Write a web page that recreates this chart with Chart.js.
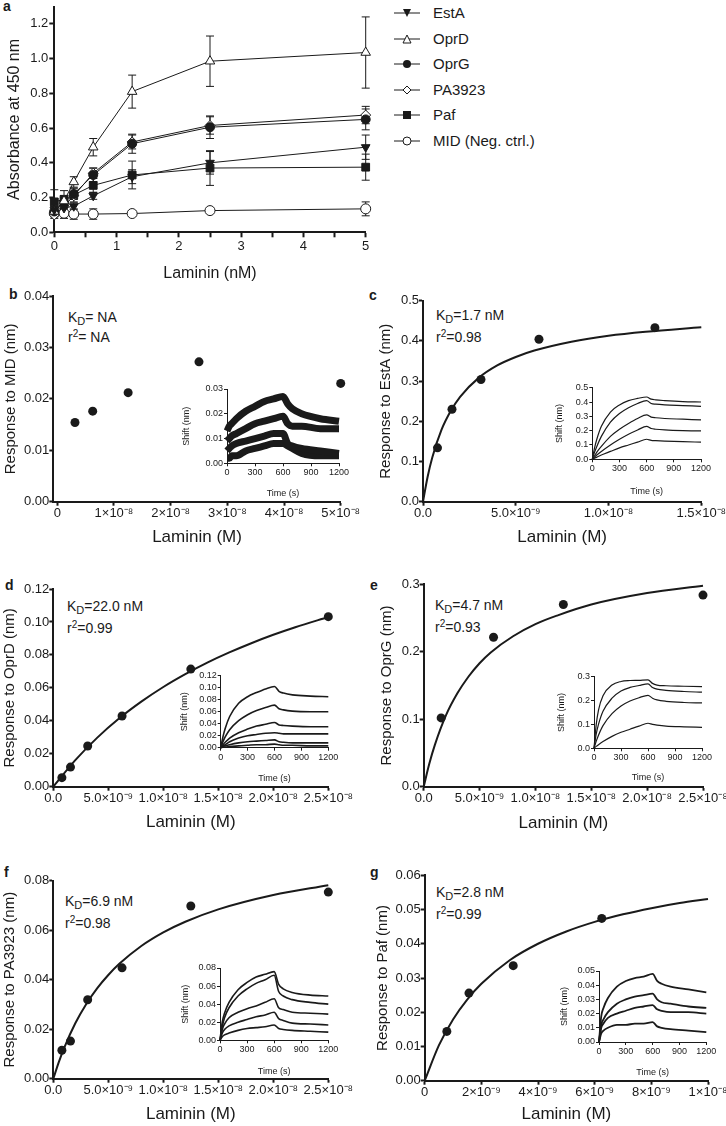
<!DOCTYPE html>
<html>
<head>
<meta charset="utf-8">
<script src="https://cdn.jsdelivr.net/npm/chart.js@4.4.1/dist/chart.umd.min.js"></script>
<style>
  html, body { margin: 0; padding: 0; background: #fff; }
  #fig { position: relative; width: 726px; height: 1126px; overflow: hidden;
         font-family: 'Liberation Sans', Arial, sans-serif; color: #1a1a1a; }
  #fig canvas { position: absolute; }
  .letter { position: absolute; font-weight: bold; font-size: 14px; line-height: 16px; }
  .note { position: absolute; font-size: 14px; line-height: 16px; white-space: nowrap; }
  .note sub { font-size: 11px; vertical-align: -3px; line-height: 0; }
  .note sup { font-size: 10px; vertical-align: 5px; line-height: 0; }
  .row { position: absolute; left: 394px; height: 20px; white-space: nowrap; font-size: 15px; }
  .row svg { position: absolute; left: 0; top: 3px; }
  .row span { position: absolute; left: 39px; top: 0; line-height: 20px; }
</style>
</head>
<body>
<div id="fig">
  <div class="letter" style="left:3px;top:-2px">a</div>
  <div class="letter" style="left:9px;top:286px">b</div>
  <div class="letter" style="left:369px;top:287px">c</div>
  <div class="letter" style="left:5px;top:577px">d</div>
  <div class="letter" style="left:370px;top:577px">e</div>
  <div class="letter" style="left:4px;top:864px">f</div>
  <div class="letter" style="left:370px;top:864px">g</div>

  <div class="note" style="left:68px;top:309px">K<sub>D</sub>= NA</div>
  <div class="note" style="left:68px;top:329px">r<sup>2</sup>= NA</div>
  <div class="note" style="left:436px;top:307px">K<sub>D</sub>=1.7 nM</div>
  <div class="note" style="left:436px;top:329px">r<sup>2</sup>=0.98</div>
  <div class="note" style="left:67px;top:598px">K<sub>D</sub>=22.0 nM</div>
  <div class="note" style="left:67px;top:620px">r<sup>2</sup>=0.99</div>
  <div class="note" style="left:435px;top:597px">K<sub>D</sub>=4.7 nM</div>
  <div class="note" style="left:435px;top:619px">r<sup>2</sup>=0.93</div>
  <div class="note" style="left:65px;top:893px">K<sub>D</sub>=6.9 nM</div>
  <div class="note" style="left:65px;top:915px">r<sup>2</sup>=0.98</div>
  <div class="note" style="left:436px;top:884px">K<sub>D</sub>=2.8 nM</div>
  <div class="note" style="left:436px;top:906px">r<sup>2</sup>=0.99</div>

  <div class="row" style="top:3px"><svg width="26" height="14"><line x1="0" y1="7" x2="26" y2="7" stroke="#1a1a1a"/><polygon points="9,3 17,3 13,11" fill="#1a1a1a"/></svg><span>EstA</span></div>
  <div class="row" style="top:29px"><svg width="26" height="14"><line x1="0" y1="7" x2="26" y2="7" stroke="#1a1a1a"/><polygon points="9,11 17,11 13,3" fill="#fff" stroke="#1a1a1a"/></svg><span>OprD</span></div>
  <div class="row" style="top:54px"><svg width="26" height="14"><line x1="0" y1="7" x2="26" y2="7" stroke="#1a1a1a"/><circle cx="13" cy="7" r="4" fill="#1a1a1a"/></svg><span>OprG</span></div>
  <div class="row" style="top:80px"><svg width="26" height="14"><line x1="0" y1="7" x2="26" y2="7" stroke="#1a1a1a"/><polygon points="13,3 17,7 13,11 9,7" fill="#fff" stroke="#1a1a1a"/></svg><span>PA3923</span></div>
  <div class="row" style="top:105px"><svg width="26" height="14"><line x1="0" y1="7" x2="26" y2="7" stroke="#1a1a1a"/><rect x="9" y="3" width="8" height="8" fill="#1a1a1a"/></svg><span>Paf</span></div>
  <div class="row" style="top:131px"><svg width="26" height="14"><line x1="0" y1="7" x2="26" y2="7" stroke="#1a1a1a"/><circle cx="13" cy="7" r="4" fill="#fff" stroke="#1a1a1a"/></svg><span>MID (Neg. ctrl.)</span></div>
</div>

<script>
// ---- PANEL A: ELISA binding ----
const lamininNM = [0, 0.156, 0.3125, 0.625, 1.25, 2.5, 5];
const absEstA   = [0.13, 0.14, 0.15, 0.21, 0.32, 0.40, 0.49];
const errEstA   = [0.02, 0.02, 0.02, 0.02, 0.04, 0.065, 0.07];
const absOprD   = [0.12, 0.18, 0.29, 0.49, 0.81, 0.985, 1.035];
const errOprD   = [0.03, 0.03, 0.03, 0.05, 0.095, 0.145, 0.205];
const absOprG   = [0.12, 0.17, 0.22, 0.33, 0.51, 0.605, 0.65];
const errOprG   = [0.03, 0.03, 0.03, 0.04, 0.055, 0.065, 0.06];
const absPA3923 = [0.10, 0.15, 0.21, 0.34, 0.52, 0.615, 0.675];
const errPA3923 = [0.02, 0.02, 0.02, 0.03, 0.04, 0.05, 0.05];
const absPaf    = [0.175, 0.19, 0.215, 0.27, 0.33, 0.37, 0.375];
const errPaf    = [0.07, 0.05, 0.04, 0.04, 0.08, 0.10, 0.075];
const absMID    = [0.11, 0.11, 0.105, 0.105, 0.108, 0.125, 0.135];
const errMID    = [0.01, 0.03, 0.03, 0.03, 0.01, 0.01, 0.04];
const ticksA_x  = [0, 0.5, 1, 1.5, 2, 2.5, 3, 3.5, 4, 4.5, 5];
const labelsA_x = ['0', '', '1', '', '2', '', '3', '', '4', '', '5'];
const ticksA_y  = [0, 0.2, 0.4, 0.6, 0.8, 1.0, 1.2];
const labelsA_y = ['0.0', '0.2', '0.4', '0.6', '0.8', '1.0', '1.2'];

// ---- PANELS B-G: steady-state response ----
const concMID  = [3.125e-9, 6.25e-9, 1.25e-8, 2.5e-8, 5e-8];
const respMID  = [0.0154, 0.0176, 0.0212, 0.0272, 0.0230];

const concEstA = [0.78125e-9, 1.5625e-9, 3.125e-9, 6.25e-9, 1.25e-8];
const respEstA = [0.134, 0.230, 0.304, 0.404, 0.433];
const fitConcEstA = [0, 0.25e-9, 0.5e-9, 1e-9, 1.5e-9, 2e-9, 3e-9, 4e-9, 5e-9, 6e-9, 8e-9, 10e-9, 12e-9, 15e-9];
const fitEstA     = [0, 0.062, 0.110, 0.179, 0.226, 0.261, 0.308, 0.339, 0.360, 0.376, 0.398, 0.413, 0.423, 0.434];

const concOprD = [0.78125e-9, 1.5625e-9, 3.125e-9, 6.25e-9, 1.25e-8, 2.5e-8];
const respOprD = [0.0055, 0.0119, 0.0247, 0.0429, 0.0714, 0.1032];
const fitConcOprD = [0, 2e-9, 4e-9, 6e-9, 8e-9, 10e-9, 12e-9, 14e-9, 16e-9, 18e-9, 20e-9, 22e-9, 25e-9];
const fitOprD     = [0, 0.0161, 0.0298, 0.0415, 0.0516, 0.0605, 0.0683, 0.0753, 0.0815, 0.0871, 0.0922, 0.0968, 0.1030];

const concOprG = [1.5625e-9, 6.25e-9, 1.25e-8, 2.5e-8];
const respOprG = [0.102, 0.2215, 0.270, 0.284];
const fitConcOprG = [0, 0.5e-9, 1e-9, 2e-9, 3e-9, 4e-9, 5e-9, 6e-9, 8e-9, 10e-9, 12e-9, 15e-9, 20e-9, 25e-9];
const fitOprG     = [0, 0.034, 0.062, 0.106, 0.138, 0.163, 0.183, 0.199, 0.223, 0.241, 0.254, 0.270, 0.287, 0.298];

const concPA3923 = [0.78125e-9, 1.5625e-9, 3.125e-9, 6.25e-9, 1.25e-8, 2.5e-8];
const respPA3923 = [0.0115, 0.0152, 0.0319, 0.0448, 0.0698, 0.0754];
const fitConcPA3923 = [0, 0.5e-9, 1e-9, 2e-9, 3e-9, 4e-9, 5e-9, 6e-9, 8e-9, 10e-9, 12e-9, 15e-9, 20e-9, 25e-9];
const fitPA3923     = [0, 0.0067, 0.0126, 0.0224, 0.0302, 0.0366, 0.0419, 0.0464, 0.0536, 0.0591, 0.0634, 0.0684, 0.0742, 0.0782];

const concPaf = [0.78125e-9, 1.5625e-9, 3.125e-9, 6.25e-9];
const respPaf = [0.0144, 0.0256, 0.0336, 0.0474];
const fitConcPaf = [0, 0.5e-9, 1e-9, 1.5e-9, 2e-9, 3e-9, 4e-9, 5e-9, 6e-9, 7e-9, 8e-9, 9e-9, 10e-9];
const fitPaf     = [0, 0.0103, 0.0179, 0.0237, 0.0283, 0.0352, 0.0400, 0.0436, 0.0464, 0.0486, 0.0504, 0.0519, 0.0531];

// axis ticks for B-G
const ticksM5e8  = [0, 1e-8, 2e-8, 3e-8, 4e-8, 5e-8];
const labelsM5e8 = ['0', '1×10⁻⁸', '2×10⁻⁸', '3×10⁻⁸', '4×10⁻⁸', '5×10⁻⁸'];
const ticksM15   = [0, 5e-9, 1e-8, 1.5e-8];
const labelsM15  = ['0.0', '5.0×10⁻⁹', '1.0×10⁻⁸', '1.5×10⁻⁸'];
const ticksM25   = [0, 5e-9, 1e-8, 1.5e-8, 2e-8, 2.5e-8];
const labelsM25  = ['0.0', '5.0×10⁻⁹', '1.0×10⁻⁸', '1.5×10⁻⁸', '2.0×10⁻⁸', '2.5×10⁻⁸'];
const ticksM10   = [0, 2e-9, 4e-9, 6e-9, 8e-9, 1e-8];
const labelsM10  = ['0', '2×10⁻⁹', '4×10⁻⁹', '6×10⁻⁹', '8×10⁻⁹', '1×10⁻⁸'];
const ticksY004  = [0, 0.01, 0.02, 0.03, 0.04];
const labelsY004 = ['0.00', '0.01', '0.02', '0.03', '0.04'];
const ticksY05   = [0, 0.1, 0.2, 0.3, 0.4, 0.5];
const labelsY05  = ['0.0', '0.1', '0.2', '0.3', '0.4', '0.5'];
const ticksY012  = [0, 0.02, 0.04, 0.06, 0.08, 0.10, 0.12];
const labelsY012 = ['0.00', '0.02', '0.04', '0.06', '0.08', '0.10', '0.12'];
const ticksY03   = [0, 0.1, 0.2, 0.3];
const labelsY03  = ['0.0', '0.1', '0.2', '0.3'];
const ticksY008  = [0, 0.02, 0.04, 0.06, 0.08];
const labelsY008 = ['0.00', '0.02', '0.04', '0.06', '0.08'];
const ticksY006  = [0, 0.01, 0.02, 0.03, 0.04, 0.05, 0.06];
const labelsY006 = ['0.00', '0.01', '0.02', '0.03', '0.04', '0.05', '0.06'];

// ---- INSETS: sensorgrams ----
const timeS = [0, 25, 50, 100, 200, 300, 400, 500, 600, 650, 700, 800, 1000, 1200];
const ticksTime  = [0, 300, 600, 900, 1200];
const labelsTime = ['0', '300', '600', '900', '1200'];
const shiftMID = [
  [0.013, 0.015, 0.016, 0.018, 0.021, 0.023, 0.025, 0.026, 0.027, 0.024, 0.022, 0.020, 0.018, 0.017],
  [0.009, 0.010, 0.011, 0.012, 0.014, 0.016, 0.017, 0.018, 0.019, 0.016, 0.015, 0.015, 0.014, 0.014],
  [0.005, 0.006, 0.007, 0.008, 0.009, 0.010, 0.011, 0.012, 0.012, 0.008, 0.007, 0.006, 0.005, 0.004],
  [0.002, 0.002, 0.003, 0.003, 0.005, 0.006, 0.007, 0.008, 0.008, 0.007, 0.006, 0.004, 0.003, 0.003],
];
const shiftEstA = [
  [0, 0.08, 0.14, 0.23, 0.33, 0.38, 0.41, 0.425, 0.435, 0.42, 0.415, 0.41, 0.403, 0.40],
  [0, 0.05, 0.09, 0.16, 0.26, 0.32, 0.36, 0.39, 0.41, 0.39, 0.385, 0.38, 0.375, 0.37],
  [0, 0.025, 0.05, 0.09, 0.16, 0.21, 0.25, 0.285, 0.31, 0.295, 0.29, 0.285, 0.28, 0.275],
  [0, 0.015, 0.03, 0.055, 0.10, 0.14, 0.175, 0.205, 0.23, 0.215, 0.21, 0.205, 0.20, 0.198],
  [0, 0.008, 0.015, 0.03, 0.055, 0.08, 0.10, 0.12, 0.14, 0.132, 0.13, 0.127, 0.123, 0.12],
];
const shiftOprD = [
  [0, 0.018, 0.032, 0.052, 0.074, 0.085, 0.092, 0.098, 0.102, 0.094, 0.091, 0.088, 0.086, 0.085],
  [0, 0.010, 0.018, 0.030, 0.045, 0.055, 0.062, 0.067, 0.071, 0.065, 0.063, 0.061, 0.060, 0.060],
  [0, 0.005, 0.009, 0.016, 0.025, 0.031, 0.036, 0.039, 0.042, 0.038, 0.037, 0.036, 0.035, 0.035],
  [0, 0.003, 0.005, 0.010, 0.016, 0.020, 0.022, 0.024, 0.025, 0.024, 0.023, 0.023, 0.023, 0.023],
  [0, 0.002, 0.003, 0.005, 0.008, 0.010, 0.011, 0.012, 0.013, 0.010, 0.009, 0.008, 0.008, 0.008],
  [0, 0.001, 0.001, 0.002, 0.003, 0.004, 0.005, 0.005, 0.006, 0.005, 0.004, 0.004, 0.003, 0.003],
];
const shiftOprG = [
  [0, 0.10, 0.16, 0.22, 0.265, 0.28, 0.284, 0.285, 0.287, 0.272, 0.265, 0.262, 0.26, 0.258],
  [0, 0.06, 0.10, 0.155, 0.21, 0.24, 0.255, 0.263, 0.27, 0.255, 0.248, 0.243, 0.238, 0.235],
  [0, 0.03, 0.055, 0.095, 0.145, 0.177, 0.198, 0.212, 0.222, 0.21, 0.203, 0.197, 0.192, 0.19],
  [0, 0.008, 0.015, 0.028, 0.05, 0.067, 0.08, 0.093, 0.105, 0.1, 0.097, 0.093, 0.09, 0.088],
];
const shiftPA3923 = [
  [0, 0.020, 0.030, 0.042, 0.056, 0.064, 0.070, 0.073, 0.076, 0.062, 0.057, 0.053, 0.050, 0.049],
  [0, 0.015, 0.025, 0.036, 0.049, 0.057, 0.063, 0.067, 0.072, 0.054, 0.049, 0.045, 0.042, 0.040],
  [0, 0.012, 0.018, 0.025, 0.031, 0.035, 0.038, 0.042, 0.046, 0.036, 0.034, 0.031, 0.030, 0.029],
  [0, 0.008, 0.012, 0.016, 0.020, 0.023, 0.026, 0.028, 0.031, 0.024, 0.022, 0.019, 0.018, 0.017],
  [0, 0.004, 0.006, 0.008, 0.011, 0.013, 0.014, 0.015, 0.017, 0.013, 0.012, 0.011, 0.010, 0.009],
];
const shiftPaf = [
  [0, 0.018, 0.024, 0.031, 0.039, 0.043, 0.045, 0.046, 0.048, 0.043, 0.041, 0.039, 0.037, 0.035],
  [0, 0.012, 0.016, 0.021, 0.027, 0.030, 0.032, 0.033, 0.034, 0.030, 0.028, 0.027, 0.025, 0.024],
  [0, 0.010, 0.013, 0.017, 0.020, 0.022, 0.024, 0.025, 0.026, 0.023, 0.022, 0.021, 0.021, 0.020],
  [0, 0.006, 0.008, 0.010, 0.012, 0.012, 0.013, 0.013, 0.014, 0.011, 0.010, 0.009, 0.008, 0.007],
];
const ticksS003  = [0, 0.01, 0.02, 0.03];
const labelsS003 = ['0.00', '0.01', '0.02', '0.03'];
const ticksS005  = [0, 0.01, 0.02, 0.03, 0.04, 0.05];
const labelsS005 = ['0.00', '0.01', '0.02', '0.03', '0.04', '0.05'];

// ---- HELPERS ----
const INK = '#1a1a1a';
const FAMILY = "'Liberation Sans', Arial, sans-serif";
const fig = document.getElementById('fig');

const pts = (xs, ys) => xs.map((x, i) => ({ x, y: ys[i] }));

// error bars for panel a, drawn through the chart's own scales
const errorBars = {
  id: 'errorBars',
  beforeDatasetsDraw(chart) {
    const { ctx, scales: { x, y } } = chart;
    ctx.save();
    ctx.strokeStyle = INK;
    ctx.lineWidth = 1;
    chart.data.datasets.forEach(ds => {
      if (!ds.errors) return;
      ds.data.forEach((p, i) => {
        const e = ds.errors[i];
        const px = x.getPixelForValue(p.x);
        const hi = y.getPixelForValue(p.y + e);
        const lo = y.getPixelForValue(p.y - e);
        ctx.beginPath();
        ctx.moveTo(px, hi); ctx.lineTo(px, lo);
        ctx.moveTo(px - 4, hi); ctx.lineTo(px + 4, hi);
        ctx.moveTo(px - 4, lo); ctx.lineTo(px + 4, lo);
        ctx.stroke();
      });
    });
    ctx.restore();
  },
};

// build one chart whose plot area lands on the given page rectangle
function makeChart(cfg) {
  const a = cfg.area;
  const fsY = cfg.titleSize;
  const fsX = cfg.xTitleSize || cfg.titleSize;
  const x0 = Math.floor(cfg.yTitleX - 0.6 * fsY);
  const y0 = Math.max(0, Math.floor(a.t - cfg.padTop));
  const x1 = Math.ceil(a.r + cfg.padRight);
  const y1 = Math.ceil(cfg.xTitleY + 0.6 * fsX);
  const cv = document.createElement('canvas');
  cv.width = x1 - x0;
  cv.height = y1 - y0;
  cv.style.left = x0 + 'px';
  cv.style.top = y0 + 'px';
  fig.appendChild(cv);

  const axis = (isY, lim, ticks, labels, title, fs) => ({
    type: 'linear', position: isY ? 'left' : 'bottom', bounds: 'data',
    min: lim[0], max: lim[1],
    border: { color: INK, width: cfg.axisWidth },
    grid: { drawOnChartArea: false, drawTicks: true, tickLength: cfg.tickLen, tickColor: INK, tickWidth: cfg.axisWidth },
    ticks: { color: INK, font: { family: FAMILY, size: cfg.tickSize }, padding: cfg.tickPad,
             autoSkip: false, maxRotation: 0, callback: (v, i) => labels[i] },
    title: { display: true, text: title, color: INK, font: { family: FAMILY, size: fs }, padding: 0 },
    afterBuildTicks: s => { s.ticks = ticks.map(v => ({ value: v })); },
    afterFit: s => {
      if (isY) s.width = a.l - x0; else s.height = y1 - a.b;
      s.paddingTop = s.paddingBottom = s.paddingLeft = s.paddingRight = 0;
    },
  });

  return new Chart(cv, {
    type: 'scatter',
    data: { datasets: cfg.datasets },
    options: {
      responsive: false, animation: false, events: [],
      layout: { padding: { left: 0, bottom: 0, top: a.t - y0, right: x1 - a.r } },
      plugins: { legend: { display: false }, tooltip: { enabled: false } },
      scales: {
        x: axis(false, cfg.xLim, cfg.xTicks, cfg.xLabels, cfg.xTitle, fsX),
        y: axis(true, cfg.yLim, cfg.yTicks, cfg.yLabels, cfg.yTitle, fsY),
      },
    },
    plugins: cfg.plugins || [],
  });
}

const MAIN = { titleSize: 15, xTitleSize: 17, tickSize: 13, tickLen: 4, tickPad: 0, axisWidth: 2, padTop: 10, padRight: 34 };
const INSET = { titleSize: 9, tickSize: 9, tickLen: 3, tickPad: 1, axisWidth: 1, padTop: 7, padRight: 12 };

const dots = (xs, ys) => ({ data: pts(xs, ys), pointRadius: 4.5, backgroundColor: INK, borderWidth: 0, clip: false });
const fitLine = (xs, ys) => ({ data: pts(xs, ys), showLine: true, pointRadius: 0, borderColor: INK, borderWidth: 2,
                               cubicInterpolationMode: 'monotone', clip: false });
const traces = (curves, w) => curves.map(c => ({ data: pts(timeS, c), showLine: true, pointRadius: 0, borderColor: INK,
                                                  borderWidth: w, cubicInterpolationMode: 'monotone', clip: false }));
const elisa = (ys, errs, style, fill, r, rot) => ({
  data: pts(lamininNM, ys), errors: errs, showLine: true, borderColor: INK, borderWidth: 1,
  pointStyle: style, pointRotation: rot || 0, pointRadius: r, pointBackgroundColor: fill,
  pointBorderColor: INK, pointBorderWidth: 1, clip: false,
});

// ---- PANEL A ----
makeChart({
  titleSize: 16, tickSize: 13, tickLen: 5, tickPad: 1, axisWidth: 2, padTop: 3, padRight: 8,
  area: { l: 54.3, t: 2.3, r: 365.7, b: 232.3 }, yTitleX: 15, xTitleY: 273,
  xLim: [0, 5], xTicks: ticksA_x, xLabels: labelsA_x, xTitle: 'Laminin (nM)',
  yLim: [0, 1.3], yTicks: ticksA_y, yLabels: labelsA_y, yTitle: 'Absorbance at 450 nm',
  plugins: [errorBars],
  datasets: [
    elisa(absEstA, errEstA, 'triangle', INK, 5, 180),
    elisa(absOprD, errOprD, 'triangle', '#fff', 5.5),
    elisa(absOprG, errOprG, 'circle', INK, 4.5),
    elisa(absPA3923, errPA3923, 'rectRot', '#fff', 5),
    elisa(absPaf, errPaf, 'rect', INK, 5.5),
    elisa(absMID, errMID, 'circle', '#fff', 5),
  ],
});

// ---- PANEL B ----
makeChart({ ...MAIN,
  area: { l: 53.3, t: 296, r: 340.7, b: 501.7 }, yTitleX: 11, xTitleY: 537,
  xLim: [-7e-10, 5e-8], xTicks: ticksM5e8, xLabels: labelsM5e8, xTitle: 'Laminin (M)',
  yLim: [0, 0.04], yTicks: ticksY004, yLabels: labelsY004, yTitle: 'Response to MID (nm)',
  datasets: [dots(concMID, respMID)],
});

// ---- PANEL C ----
makeChart({ ...MAIN,
  area: { l: 423, t: 300.7, r: 701.3, b: 501.7 }, yTitleX: 386.3, xTitleY: 537,
  xLim: [0, 1.5e-8], xTicks: ticksM15, xLabels: labelsM15, xTitle: 'Laminin (M)',
  yLim: [0, 0.5], yTicks: ticksY05, yLabels: labelsY05, yTitle: 'Response to EstA (nm)',
  datasets: [dots(concEstA, respEstA), fitLine(fitConcEstA, fitEstA)],
});

// ---- PANEL D ----
makeChart({ ...MAIN,
  area: { l: 53.3, t: 589, r: 328.3, b: 786.7 }, yTitleX: 10.5, xTitleY: 822.7,
  xLim: [0, 2.5e-8], xTicks: ticksM25, xLabels: labelsM25, xTitle: 'Laminin (M)',
  yLim: [0, 0.12], yTicks: ticksY012, yLabels: labelsY012, yTitle: 'Response to OprD (nm)',
  datasets: [dots(concOprD, respOprD), fitLine(fitConcOprD, fitOprD)],
});

// ---- PANEL E ----
makeChart({ ...MAIN,
  area: { l: 423.7, t: 584.3, r: 703, b: 786.7 }, yTitleX: 387, xTitleY: 823.3,
  xLim: [0, 2.5e-8], xTicks: ticksM25, xLabels: labelsM25, xTitle: 'Laminin (M)',
  yLim: [0, 0.3], yTicks: ticksY03, yLabels: labelsY03, yTitle: 'Response to OprG (nm)',
  datasets: [dots(concOprG, respOprG), fitLine(fitConcOprG, fitOprG)],
});

// ---- PANEL F ----
makeChart({ ...MAIN,
  area: { l: 53.3, t: 880.7, r: 328.3, b: 1078.7 }, yTitleX: 10.7, xTitleY: 1114,
  xLim: [0, 2.5e-8], xTicks: ticksM25, xLabels: labelsM25, xTitle: 'Laminin (M)',
  yLim: [0, 0.08], yTicks: ticksY008, yLabels: labelsY008, yTitle: 'Response to PA3923 (nm)',
  datasets: [dots(concPA3923, respPA3923), fitLine(fitConcPA3923, fitPA3923)],
});

// ---- PANEL G ----
makeChart({ ...MAIN,
  area: { l: 424.7, t: 875.3, r: 708, b: 1080.7 }, yTitleX: 383.7, xTitleY: 1114,
  xLim: [0, 1e-8], xTicks: ticksM10, xLabels: labelsM10, xTitle: 'Laminin (M)',
  yLim: [0, 0.06], yTicks: ticksY006, yLabels: labelsY006, yTitle: 'Response to Paf (nm)',
  datasets: [dots(concPaf, respPaf), fitLine(fitConcPaf, fitPaf)],
});

// ---- INSETS ----
const insetAxes = { xLim: [0, 1200], xTicks: ticksTime, xLabels: labelsTime, xTitle: 'Time (s)', yTitle: 'Shift (nm)' };

makeChart({ ...INSET, ...insetAxes,
  area: { l: 227, t: 389, r: 339, b: 463.3 }, yTitleX: 187.3, xTitleY: 493.3,
  yLim: [0, 0.03], yTicks: ticksS003, yLabels: labelsS003,
  datasets: traces(shiftMID, 7),
});
makeChart({ ...INSET, ...insetAxes,
  area: { l: 592.3, t: 387.7, r: 701, b: 459.3 }, yTitleX: 560.3, xTitleY: 490.7,
  yLim: [0, 0.5], yTicks: ticksY05, yLabels: labelsY05,
  datasets: traces(shiftEstA, 1.2),
});
makeChart({ ...INSET, ...insetAxes,
  area: { l: 220.7, t: 675.7, r: 328.3, b: 747.7 }, yTitleX: 185, xTitleY: 778.3,
  yLim: [0, 0.12], yTicks: ticksY012, yLabels: labelsY012,
  datasets: traces(shiftOprD, 1.6),
});
makeChart({ ...INSET, ...insetAxes,
  area: { l: 594, t: 676.7, r: 702, b: 748.3 }, yTitleX: 562.3, xTitleY: 776.7,
  yLim: [0, 0.3], yTicks: ticksY03, yLabels: labelsY03,
  datasets: traces(shiftOprG, 1.2),
});
makeChart({ ...INSET, ...insetAxes,
  area: { l: 220, t: 968, r: 328.3, b: 1040.3 }, yTitleX: 186, xTitleY: 1070.7,
  yLim: [0, 0.08], yTicks: ticksY008, yLabels: labelsY008,
  datasets: traces(shiftPA3923, 1.6),
});
makeChart({ ...INSET, ...insetAxes,
  area: { l: 599, t: 971, r: 706.3, b: 1042 }, yTitleX: 564.7, xTitleY: 1071.7,
  yLim: [0, 0.05], yTicks: ticksS005, yLabels: labelsS005,
  datasets: traces(shiftPaf, 1.8),
});
</script>
</body>
</html>
